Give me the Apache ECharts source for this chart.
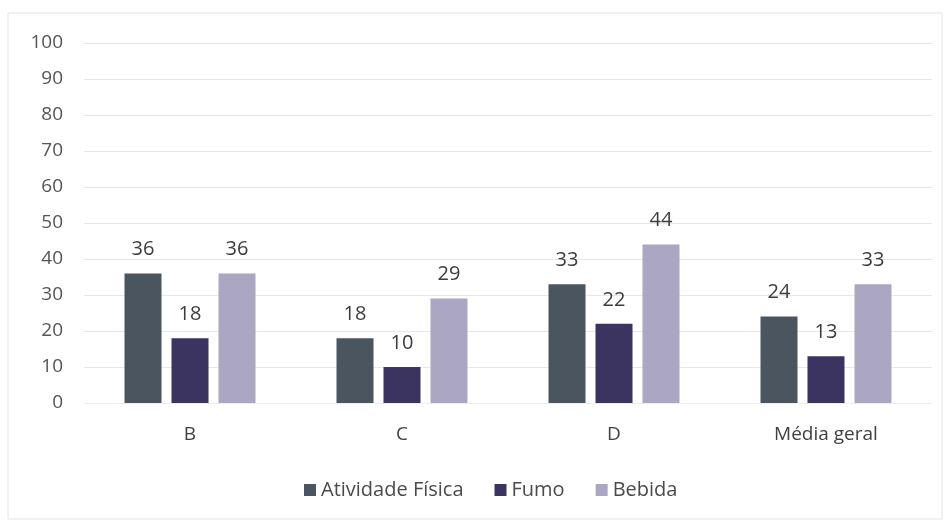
<!DOCTYPE html>
<html>
<head>
<meta charset="utf-8">
<script src="https://cdn.jsdelivr.net/npm/echarts@6/dist/echarts.min.js"></script>
<style>
  html, body { margin: 0; padding: 0; background: #ffffff; }
  #chart { width: 950px; height: 523px; }
</style>
</head>
<body>
<div id="chart"></div>
<script>
// Categories and series values
const categories = ['B', 'C', 'D', 'Média geral'];
const atividadeFisica = [36, 18, 33, 24];
const fumo = [18, 10, 22, 13];
const bebida = [36, 29, 44, 33];
const seriesNames = ['Atividade Física', 'Fumo', 'Bebida'];
const yTicks = { min: 0, max: 100, interval: 10 };

const FONT = '"Open Sans", Lato, sans-serif';
const colors = ['#4a5560', '#3b3460', '#aba6c2'];

const labelStyle = {
  show: true,
  position: 'top',
  distance: 14,
  fontFamily: FONT,
  fontSize: 20,
  color: '#3c3c3c'
};

function makeSeries(name, data, color) {
  return {
    name: name,
    type: 'bar',
    data: data,
    barWidth: 37,
    barGap: '27%',
    itemStyle: { color: color },
    label: labelStyle
  };
}

const chart = echarts.init(document.getElementById('chart'));
chart.setOption({
  animation: false,
  backgroundColor: '#ffffff',
  graphic: [{
    type: 'rect',
    shape: { x: 8, y: 13, width: 934, height: 506 },
    style: { fill: 'none', stroke: '#e4e4ea', lineWidth: 1 },
    silent: true
  }],
  grid: { left: 84, right: 18, top: 43, bottom: 120 },
  legend: {
    data: seriesNames,
    bottom: 18,
    left: 299,
    itemWidth: 12,
    itemHeight: 12,
    itemGap: 31,
    icon: 'rect',
    textStyle: { fontFamily: FONT, fontSize: 20, color: '#4a4a4a' }
  },
  xAxis: {
    type: 'category',
    data: categories,
    axisLine: { show: true, lineStyle: { color: '#ececf2' } },
    axisTick: { show: false },
    axisLabel: { fontFamily: FONT, fontSize: 19, color: '#404040', margin: 22 }
  },
  yAxis: {
    type: 'value',
    min: yTicks.min,
    max: yTicks.max,
    interval: yTicks.interval,
    axisLine: { show: false },
    axisTick: { show: false },
    axisLabel: { fontFamily: FONT, fontSize: 19, color: '#555555', margin: 21 },
    splitLine: { lineStyle: { color: '#e8e6f0', width: 1 } }
  },
  series: [
    makeSeries(seriesNames[0], atividadeFisica, colors[0]),
    makeSeries(seriesNames[1], fumo, colors[1]),
    makeSeries(seriesNames[2], bebida, colors[2])
  ]
});
</script>
</body>
</html>
